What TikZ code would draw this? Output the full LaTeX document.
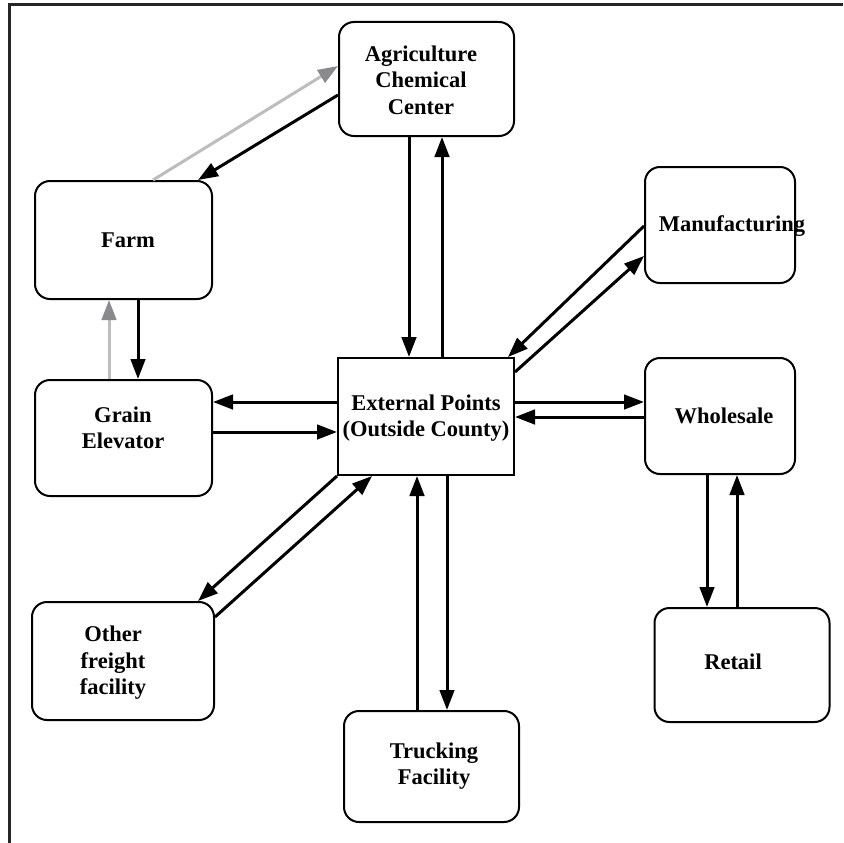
\documentclass[tikz,border=0pt]{standalone}
\usepackage{fontspec}
\setmainfont{Liberation Serif}
\usetikzlibrary{arrows.meta}
\definecolor{linegray}{HTML}{BDBDBD}
\definecolor{headgray}{HTML}{8A8A8D}
\tikzset{
  box/.style={draw=black, line width=2pt, rounded corners=15pt, inner sep=0pt},
  sqbox/.style={draw=black, line width=2pt, inner sep=0pt},
  lbl/.style={font=\fontsize{22.5}{26.5}\selectfont\bfseries, align=center, inner sep=0pt},
  arr/.style={line width=3pt, -{Triangle[length=20pt,width=14.5pt]}},
  garr/.style={line width=3pt, draw=linegray, -{Triangle[length=20pt,width=14.5pt,color=headgray]}}
}
\begin{document}
\begin{tikzpicture}[x=1pt,y=-1pt]
\useasboundingbox (0,0) rectangle (843,843);
\draw[line width=3pt, color=black!85] (9,843) -- (9,4.7) -- (843,4.7);

% boxes
\node[box, minimum width=175pt, minimum height=114pt] (agri) at (426.5,79) {};
\node[box, minimum width=177pt, minimum height=118pt] (farm) at (123.5,240) {};
\node[box, minimum width=177pt, minimum height=116pt] (grain) at (123.5,438) {};
\node[sqbox, minimum width=176pt, minimum height=117pt] (ext) at (426,416.5) {};
\node[box, minimum width=150pt, minimum height=116pt] (manu) at (720,225) {};
\node[box, minimum width=150pt, minimum height=116pt] (whole) at (720,416) {};
\node[box, minimum width=175pt, minimum height=114pt] (retail) at (742,665) {};
\node[box, minimum width=182pt, minimum height=118pt] (other) at (123,661) {};
\node[box, minimum width=175pt, minimum height=111pt] (truck) at (431.5,766.5) {};

% labels
\node[lbl] (agriT) at (421,80) {Agriculture\\Chemical\\Center};
\node[lbl] (farmT) at (128,240) {Farm};
\node[lbl] (grainT) at (123,428) {Grain\\Elevator};
\node[lbl] (extT) at (426,418) {External Points\\(Outside County)};
\node[lbl] (manuT) at (732,226) {Manufacturing};
\node[lbl] (wholeT) at (724,416) {Wholesale};
\node[lbl] (retailT) at (733,662) {Retail};
\node[lbl] (otherT) at (113,663) {Other\\freight\\facility};
\node[lbl] (truckT) at (434,766) {Trucking\\Facility};

% connectors
\draw[arr] ([yshift=-16pt]agri.west) -- ([xshift=74.5pt]farm.north);
\draw[garr] ([xshift=29.5pt]farm.north) -- ([yshift=13pt]agri.west);
\draw[arr] ([xshift=14.5pt]farm.south) -- ([xshift=14.5pt]grain.north);
\draw[garr] ([xshift=-14.5pt]grain.north) -- ([xshift=-14.5pt]farm.south);
\draw[arr] ([yshift=14.5pt]ext.west) -- ([yshift=36pt]grain.east);
\draw[arr] ([yshift=6pt]grain.east) -- ([yshift=-15.5pt]ext.west);
\draw[arr] ([xshift=-17.5pt]agri.south) -- ([xshift=-17pt]ext.north);
\draw[arr] ([xshift=16pt]ext.north) -- ([xshift=15.5pt]agri.south);
\draw[arr] ([yshift=-1pt]manu.west) -- ([xshift=-7pt]ext.north east);
\draw[arr] ([yshift=44.5pt]ext.east) -- ([yshift=-31pt]manu.west);
\draw[arr] ([yshift=14.5pt]ext.east) -- ([yshift=14pt]whole.west);
\draw[arr] ([yshift=-1pt]whole.west) -- ([yshift=-0.5pt]ext.east);
\draw[arr] (ext.south west) -- ([xshift=75pt]other.north);
\draw[arr] ([yshift=44pt]other.east) -- ([xshift=-54pt]ext.south);
\draw[arr] ([xshift=21pt]ext.south) -- ([xshift=15.5pt]truck.north);
\draw[arr] ([xshift=-14.5pt]truck.north) -- ([xshift=-9pt]ext.south);
\draw[arr] ([xshift=-13pt]whole.south) -- ([xshift=-35pt]retail.north);
\draw[arr] ([xshift=-5pt]retail.north) -- ([xshift=17pt]whole.south);
\end{tikzpicture}
\end{document}
